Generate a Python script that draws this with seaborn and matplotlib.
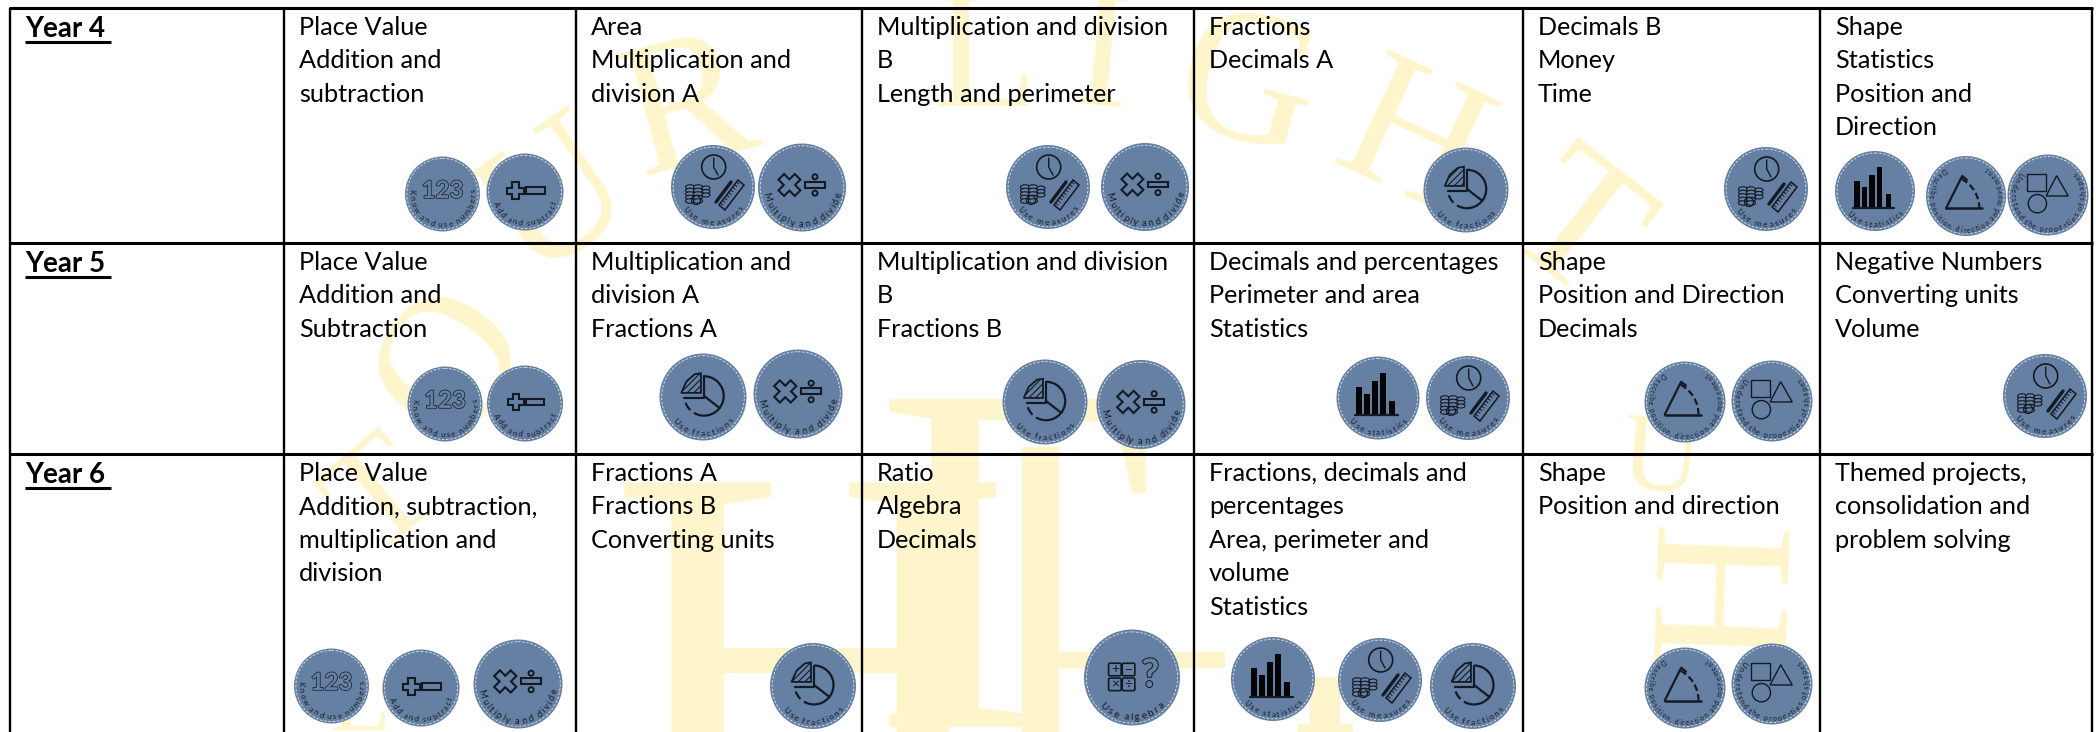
import numpy as np
import pandas as pd
import matplotlib
matplotlib.use("Agg")
import matplotlib.pyplot as plt
import seaborn as sns
from matplotlib.patches import Circle, Polygon, Rectangle, Ellipse, Arc, FancyBboxPatch
from matplotlib.font_manager import FontProperties
from matplotlib.textpath import TextToPath
import matplotlib.patheffects as pe

# table
year_labels = ["Year 4", "Year 5", "Year 6"]
col_edges = [10, 284, 576, 862, 1194, 1523, 1820, 2092]
row_edges = [8, 243, 454]

year4 = [
    ["Place Value", "Addition and", "subtraction"],
    ["Area", "Multiplication and", "division A"],
    ["Multiplication and division", "B", "Length and perimeter"],
    ["Fractions", "Decimals A"],
    ["Decimals B", "Money", "Time"],
    ["Shape", "Statistics", "Position and", "Direction"],
]
year5 = [
    ["Place Value", "Addition and", "Subtraction"],
    ["Multiplication and", "division A", "Fractions A"],
    ["Multiplication and division", "B", "Fractions B"],
    ["Decimals and percentages", "Perimeter and area", "Statistics"],
    ["Shape", "Position and Direction", "Decimals"],
    ["Negative Numbers", "Converting units", "Volume"],
]
year6 = [
    ["Place Value", "Addition, subtraction,", "multiplication and", "division"],
    ["Fractions A", "Fractions B", "Converting units"],
    ["Ratio", "Algebra", "Decimals"],
    ["Fractions, decimals and", "percentages", "Area, perimeter and", "volume", "Statistics"],
    ["Shape", "Position and direction"],
    ["Themed projects,", "consolidation and", "problem solving"],
]
all_years = [year4, year5, year6]

# badges
badge_kind = ["num", "add", "mea", "mul", "mea", "mul", "fra", "mea", "sta", "pos", "sha",
              "num", "add", "fra", "mul", "fra", "mul", "sta", "mea", "pos", "sha", "mea",
              "num", "add", "mul", "fra", "alg", "sta", "mea", "fra", "pos", "sha"]
badge_x = [442.5, 525, 713, 802, 1048, 1145, 1466, 1766, 1875, 1966, 2048,
           445, 525, 703, 798, 1045, 1141, 1378, 1468, 1685, 1772, 2045,
           331.5, 421, 518, 813, 1132, 1273, 1380, 1473, 1685, 1772]
badge_y = [194, 192, 187, 187.5, 187, 187, 190, 189, 191, 196, 195,
           404, 403.5, 397, 394, 402, 404.5, 398, 398, 402, 401, 396,
           686, 688, 684, 686, 677.5, 679, 680, 686, 688, 684]
badge_d = [75, 77, 84, 88, 84, 88, 85, 84, 80, 80, 81,
           75, 76, 87, 89, 85, 89, 83, 84, 81, 81, 84,
           75, 77, 89, 86, 96, 84, 84, 86, 81, 81]

badge_text = {
    "num": ("Know and use numbers", 8.6, 0.41),
    "add": ("Add and subtract", 8.4, 0.41),
    "mul": ("Multiply and divide", 8.8, 0.42),
    "mea": ("Use measures", 8.4, 0.42),
    "fra": ("Use fractions", 8.2, 0.42),
    "sta": ("Use statistics", 8.0, 0.42),
    "alg": ("Use algebra", 8.8, 0.42),
    "pos": ("Describe position, direction and movement", 6.9, 0.43),
    "sha": ("Understand the properties of shapes", 7.4, 0.43),
}

# faint watermark letters round the page
mark_chars = ["O", "U", "R", "L", "I", "G", "H", "T", "U", "H", "H", "\u0393", "T", "L"]
mark_x = [455, 560, 690, 985, 1102, 1245, 1410, 1570, 1658, 1735, 810, 875, 385, 360]
mark_y = [365, 205, 115, 65, 65, 95, 150, 235, 490, 590, 850, 727, 500, 730]
mark_size = [190, 190, 190, 170, 170, 190, 190, 190, 110, 200, 560, 500, 150, 100]
mark_rot = [55, 35, 15, 0, -5, -15, -25, -38, -5, 88, 0, 0, 40, 0]
mark_base = [0, 0, 0, 0, 0, 0, 0, 0, 1, 0, 1, 1, 0, 1]

# the bottom-centre watermark strokes that no single glyph gives
bar_left = [1022, 1059, 1310, 1298]
bar_top = [447, 652, 677, 724]
bar_w = [37, 166, 30, 55]
bar_h = [285, 16, 55, 8]

BADGE = "#6580A3"
INK = "#141a24"
YELLOW = "#FFF5CC"
PX = 0.72  # points per pixel at dpi 100

sns.set_theme(style="white")
plt.rcParams["font.family"] = ["Lato", "DejaVu Sans"]
plt.rcParams["hatch.linewidth"] = 0.8

fig, ax = plt.subplots(figsize=(20.96, 7.32), dpi=100)
ax.set_position([0, 0, 1, 1])
ax.set_xlim(0, 2096)
ax.set_ylim(732, 0)
ax.axis("off")
fig.patch.set_facecolor("white")

# watermark first so everything sits on top
for ch, x, y, sz, r, b in zip(mark_chars, mark_x, mark_y, mark_size, mark_rot, mark_base):
    t = ax.text(x, y, ch, fontsize=sz * PX, rotation=r, rotation_mode="anchor", ha="center",
                va="baseline" if b else "center", color=YELLOW, family="Liberation Serif", zorder=1)
    t.set_clip_on(True)
    if ch == "\u0393":
        t.set_ha("left")
for x, y, w, h in zip(bar_left, bar_top, bar_w, bar_h):
    ax.add_patch(Rectangle((x, y), w, h, fc=YELLOW, ec="none", zorder=1))

# grid lines
for x in col_edges:
    ax.plot([x, x], [8, 732], color="black", lw=1.7, zorder=2, solid_capstyle="butt")
for y in row_edges:
    ax.plot([9, 2093], [y, y], color="black", lw=2.2, zorder=2, solid_capstyle="butt")

# cell text
for r, cells in enumerate(all_years):
    top = row_edges[r]
    ax.text(25, top + 29, year_labels[r], fontsize=20, fontweight="bold", color="black", zorder=4)
    ax.plot([25, 111], [top + 34, top + 34], color="black", lw=2.2, zorder=4, solid_capstyle="butt")
    for c, lines in enumerate(cells):
        for i, line in enumerate(lines):
            ax.text(col_edges[c + 1] + 15, top + 27 + 33.4 * i, line, fontsize=18.2, color="black", zorder=4)

# badge discs
badges = pd.DataFrame({"kind": badge_kind, "x": badge_x, "y": badge_y, "d": badge_d})
sns.scatterplot(data=badges, x="x", y="y", s=(badges["d"] * PX) ** 2, color=BADGE, linewidth=0,
                legend=False, ax=ax, zorder=5)
ax.set_xlim(0, 2096)
ax.set_ylim(732, 0)
ax.axis("off")


def curved(cx, cy, d, text, fs_px, rad):
    k = d / 84
    fs = fs_px * k
    prop = FontProperties(family="Lato", size=fs)
    ttp = TextToPath()
    widths = []
    for ch in text:
        if ch == " ":
            widths.append(0.32 * fs)
        else:
            # a bit of tracking so the label runs as far round as the original
            widths.append((ttp.get_text_width_height_descent(ch, prop, False)[0] + 0.09 * fs) * 1.18)
    r = rad * d
    total = sum(widths)
    pos = -total / 2
    for ch, w in zip(text, widths):
        th = (pos + w / 2) / r
        ax.text(cx + r * np.sin(th), cy + r * np.cos(th), ch, fontsize=fs * PX, family="Lato",
                rotation=np.degrees(th), rotation_mode="anchor", ha="center", va="center",
                color=INK, zorder=7)
        pos += w


def outline(pts, cx, cy, k, lw=1.2, fill="none"):
    pts = np.array(pts, dtype=float) * k + [cx, cy]
    ax.add_patch(Polygon(pts, closed=True, fc=fill, ec=INK, lw=lw, zorder=7))


def stroke(xs, ys, cx, cy, k, lw=1.2, **kw):
    ax.plot(cx + np.array(xs, dtype=float) * k, cy + np.array(ys, dtype=float) * k, color=INK, lw=lw, zorder=7, **kw)


def circ(x, y, r, cx, cy, k, lw=1.2):
    ax.add_patch(Circle((cx + x * k, cy + y * k), r * k, fc="none", ec=INK, lw=lw, zorder=7))


def plus_pts(x, y, a, t, ang=0):
    p = np.array([[-t, -a], [t, -a], [t, -t], [a, -t], [a, t], [t, t], [t, a], [-t, a], [-t, t], [-a, t], [-a, -t], [-t, -t]], dtype=float)
    c, s = np.cos(ang), np.sin(ang)
    return p @ np.array([[c, s], [-s, c]]) + [x, y]


def rect_pts(x, y, w, h):
    return [[x - w, y - h], [x + w, y - h], [x + w, y + h], [x - w, y + h]]


def draw_icon(kind, cx, cy, d):
    k = d / 84
    if kind == "num":
        ax.text(cx, cy - 4 * k, "123", fontsize=27 * k * PX, ha="center", va="center", fontweight="bold",
                color=BADGE, zorder=7, path_effects=[pe.withStroke(linewidth=1.0, foreground=INK)])
    elif kind == "add":
        outline(plus_pts(-10.3, -1.5, 9, 3.4), cx, cy, k, 1.5)
        outline(rect_pts(11.5, -1.5, 10, 3.6), cx, cy, k, 1.5)
    elif kind == "mul":
        outline(plus_pts(-12, -2.4, 11, 3.8, np.pi / 4), cx, cy, k, 1.5)
        outline(rect_pts(12.4, -2.4, 9.5, 2.8), cx, cy, k, 1.5)
        circ(12.4, -10.2, 2.4, cx, cy, k, 1.4)
        circ(12.4, 5.4, 2.4, cx, cy, k, 1.4)
    elif kind == "mea":
        circ(0.7, -20, 12, cx, cy, k, 1.2)
        stroke([0.7, 0.7, 5], [-29, -20, -12], cx, cy, k, 1.0)
        for ex in (-23, -15):
            for ey in (0, 3.5, 7, 10.5, 14):
                ax.add_patch(Ellipse((cx + ex * k, cy + ey * k), 9 * k, 4.5 * k, fc=BADGE, ec=INK, lw=0.8, zorder=7))
        for ey in (1, 4.5, 8):
            ax.add_patch(Ellipse((cx - 7 * k, cy + ey * k), 8 * k, 4 * k, fc=BADGE, ec=INK, lw=0.8, zorder=7))
        circ(-17, 13, 4.5, cx, cy, k, 0.9)
        outline([[6, 18], [25, -7], [31, -2], [12, 23]], cx, cy, k, 1.1)
        for t in np.linspace(0.08, 0.92, 9):
            bx, by = 6 + 19 * t, 18 - 25 * t
            stroke([bx, bx + 2.6], [by, by + 2.0], cx, cy, k, 0.7)
        stroke([3, 18], [15, -5], cx, cy, k, 2.4)
    elif kind == "fra":
        x0, y0, r = 1, -1, 19
        ax.add_patch(Arc((cx + x0 * k, cy + y0 * k), 2 * r * k, 2 * r * k, theta1=-90, theta2=38, ec=INK, lw=1.6, zorder=7))
        ax.add_patch(Arc((cx + x0 * k, cy + y0 * k), 2 * r * k, 2 * r * k, theta1=38, theta2=95, ec=INK, lw=1.6, zorder=7))
        ax.add_patch(Arc((cx + x0 * k, cy + y0 * k), 2 * r * k, 2 * r * k, theta1=95, theta2=170, ec=INK, lw=1.6, ls=(0, (4, 2)), zorder=7))
        stroke([x0, x0], [y0 - r, y0], cx, cy, k, 1.6)
        stroke([x0, x0 + r * 0.8], [y0, y0 + r * 0.62], cx, cy, k, 1.6)
        stroke([x0 - r, x0], [y0 + 2, y0 + 2], cx, cy, k, 1.6)
        ax.add_patch(Polygon(np.array([[-21, -4], [-2, -4], [-2, -23], [-8, -22], [-16, -15]]) * k + [cx, cy], closed=True, fc="none",
                             ec=INK, lw=1.3, hatch="/////", zorder=7))
    elif kind == "sta":
        bar_x = [-19, -11, -3, 5, 14]
        bar_h = [28, 21, 34, 42, 14]
        for bx, bh in zip(bar_x, bar_h):
            ax.add_patch(Rectangle((cx + (bx - 2.8) * k, cy + (17 - bh) * k), 5.6 * k, bh * k, fc="#050505", ec="none", zorder=7))
        stroke([-23, 20], [17.5, 17.5], cx, cy, k, 1.6)
    elif kind == "pos":
        stroke([-21, 17], [13, 13], cx, cy, k, 1.8)
        stroke([-21, -4, 1], [13, -21, -17], cx, cy, k, 1.6)
        ax.add_patch(Arc((cx - 21 * k, cy + 13 * k), 70 * k, 70 * k, theta1=-62, theta2=0, ec=INK, lw=1.6, ls=(0, (3, 1.5)), zorder=7))
    elif kind == "sha":
        outline(rect_pts(-12, -13, 10, 9), cx, cy, k, 1.0)
        outline([[9, -20], [21, 1], [-2, 1]], cx, cy, k, 1.0)
        circ(-11, 9, 9.5, cx, cy, k, 1.0)
    elif kind == "alg":
        for bx, by, s in [(-15, -7, "+"), (-3, -7, "\u2212"), (-15, 6, "\u00d7"), (-3, 6, "\u00f7")]:
            ax.add_patch(FancyBboxPatch((cx + (bx - 5.5) * k, cy + (by - 5.5) * k), 11 * k, 11 * k,
                                        boxstyle="round,pad=0,rounding_size=1.5", fc="none", ec=INK, lw=1.2, zorder=7))
            ax.text(cx + bx * k, cy + by * k, s, fontsize=12 * k * PX, ha="center", va="center", color=INK, zorder=7)
        ax.text(cx + 16 * k, cy - 2 * k, "?", fontsize=34 * k * PX, fontweight="bold", ha="center", va="center",
                color=BADGE, zorder=7, path_effects=[pe.withStroke(linewidth=1.4, foreground=INK)])


for kind, x, y, d in zip(badge_kind, badge_x, badge_y, badge_d):
    # dashed stitching just inside the rim
    ax.add_patch(Circle((x, y), 0.475 * d, fc="none", ec="#dfe6ee", lw=0.6, ls=(0, (3, 2)), zorder=6))
    draw_icon(kind, x, y, d)
    text, fs, rad = badge_text[kind]
    curved(x, y, d, text, fs, rad)

fig.savefig("out.png", dpi=100, facecolor="white")
